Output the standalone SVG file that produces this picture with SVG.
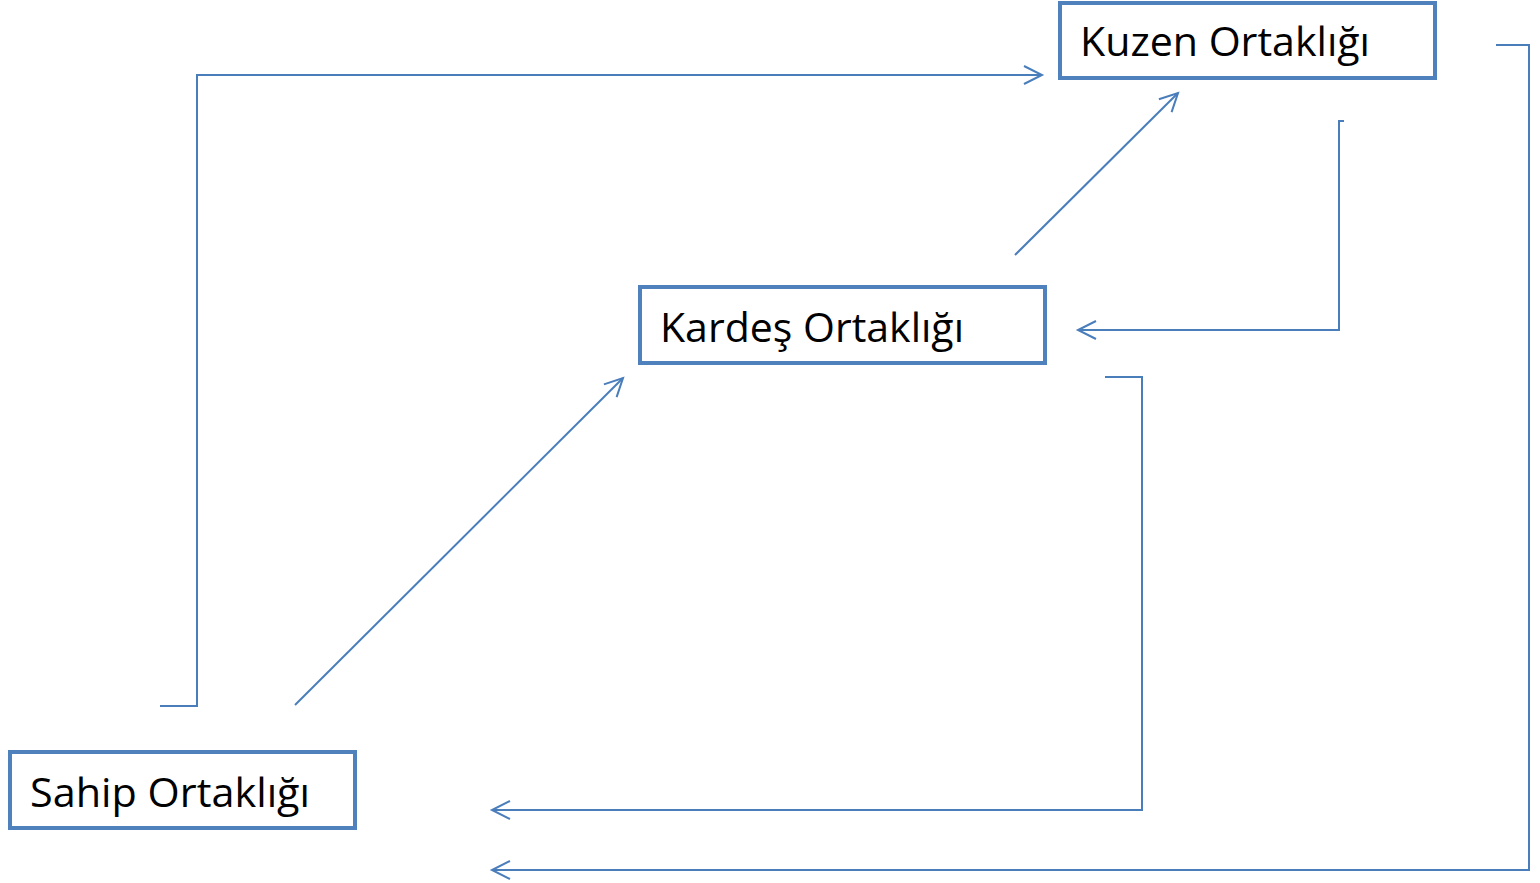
<svg xmlns="http://www.w3.org/2000/svg" width="1540" height="883" viewBox="0 0 1540 883">
<style>
.box{fill:#fff;stroke:#4f81bd;stroke-width:4}
.lbl{font-family:"Open Sans","Noto Sans",sans-serif;font-size:40px;fill:#000}
.con{fill:none;stroke:#4a7ebb;stroke-width:2;marker-end:url(#ah)}
</style>
<defs>
<marker id="ah" markerUnits="userSpaceOnUse" markerWidth="30" markerHeight="30" refX="0" refY="0" viewBox="-22 -15 30 30" orient="auto">
<path d="M-18,-9 L0,0 L-18,9" fill="none" stroke="#4a7ebb" stroke-width="2"/>
</marker>
</defs>
<g id="connectors">
<polyline class="con" points="160,706 197,706 197,75 1042,75"/>
<line class="con" x1="295" y1="705" x2="623" y2="378"/>
<line class="con" x1="1015" y1="255" x2="1178" y2="93"/>
<polyline class="con" points="1344,121 1339,121 1339,330 1078,330"/>
<polyline class="con" points="1105,377 1142,377 1142,810 492,810"/>
<polyline class="con" points="1496,45 1529,45 1529,870 492,870"/>
</g>
<g id="kuzen">
<rect class="box" x="1060" y="3" width="375" height="75"/>
<text class="lbl" x="1080" y="56" textLength="290" lengthAdjust="spacingAndGlyphs">Kuzen Ortaklığı</text>
</g>
<g id="kardes">
<rect class="box" x="640" y="287" width="405" height="76"/>
<text class="lbl" x="660" y="342" textLength="304" lengthAdjust="spacingAndGlyphs">Kardeş Ortaklığı</text>
</g>
<g id="sahip">
<rect class="box" x="10" y="752" width="345" height="76"/>
<text class="lbl" x="30" y="807" textLength="280" lengthAdjust="spacingAndGlyphs">Sahip Ortaklığı</text>
</g>
</svg>
